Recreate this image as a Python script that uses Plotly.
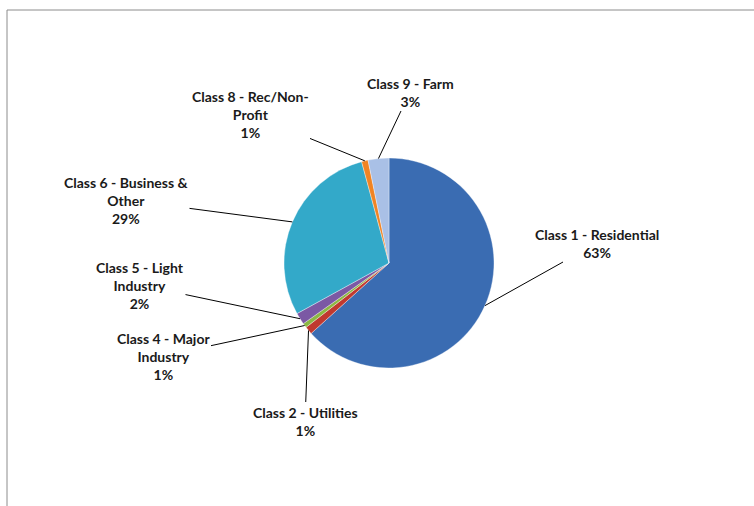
import math
import plotly.graph_objects as go

categories = ["Class 1 - Residential", "Class 2 - Utilities", "Class 4 - Major Industry",
              "Class 5 - Light Industry", "Class 6 - Business & Other",
              "Class 8 - Rec/Non-Profit", "Class 9 - Farm"]
values = [63.3, 1.2, 0.7, 1.8, 28.8, 1.0, 3.2]
label_texts = ["Class 1 - Residential<br>63%", "Class 2 - Utilities<br>1%",
               "Class 4 - Major<br>Industry<br>1%", "Class 5 - Light<br>Industry<br>2%",
               "Class 6 - Business &<br>Other<br>29%", "Class 8 - Rec/Non-<br>Profit<br>1%",
               "Class 9 - Farm<br>3%"]
colors = ["#3A6CB2", "#C0392F", "#8DB843", "#7B58A4", "#33A9C9", "#F08424", "#A9C0E6"]

W, H = 754, 506
CX, CY, R = 389, 263, 105
# label block centres (pixels)
label_pos = [(597, 243), (305, 421), (163, 356), (140, 285), (126, 200), (250, 114), (410, 92)]

fig = go.Figure()
fig.add_trace(go.Pie(
    labels=categories, values=values, sort=False, direction="clockwise", rotation=0,
    marker=dict(colors=colors, line=dict(color="rgba(255,255,255,0.35)", width=1)),
    textinfo="none", hoverinfo="label+percent", showlegend=False,
    domain=dict(x=[(CX - R) / W, (CX + R) / W], y=[(H - CY - R) / H, (H - CY + R) / H]),
))
# invisible pixel-based axes for annotations
fig.add_trace(go.Scatter(x=[0, W], y=[0, H], mode="markers", marker=dict(opacity=0),
                         hoverinfo="skip", showlegend=False))

total = sum(values)
cum = 0.0
for v, txt, (lx, ly) in zip(values, label_texts, label_pos):
    mid = (cum + v / 2) / total * 2 * math.pi
    cum += v
    px = CX + R * math.sin(mid)
    py = CY - R * math.cos(mid)
    fig.add_annotation(x=px, y=py, xref="x", yref="y", ax=lx, ay=ly, axref="x", ayref="y",
                       text=txt, showarrow=True, arrowhead=0, arrowwidth=1, arrowcolor="#000000",
                       standoff=0, startstandoff=0, align="center",
                       font=dict(family="Lato, Liberation Sans, sans-serif", size=14,
                                 color="#1a1a1a", weight="bold"))

fig.add_shape(type="line", xref="x", yref="y", x0=7, y0=10, x1=W, y1=10,
              line=dict(color="#8c8c8c", width=1))
fig.add_shape(type="line", xref="x", yref="y", x0=7, y0=10, x1=7, y1=H,
              line=dict(color="#8c8c8c", width=1))

fig.update_layout(
    width=W, height=H, margin=dict(l=0, r=0, t=0, b=0),
    paper_bgcolor="white", plot_bgcolor="rgba(0,0,0,0)",
    xaxis=dict(range=[0, W], visible=False, fixedrange=True),
    yaxis=dict(range=[H, 0], visible=False, fixedrange=True),
)
fig.write_html("out.html", config={"displayModeBar": False},
               post_script="document.body.style.margin='0';")
